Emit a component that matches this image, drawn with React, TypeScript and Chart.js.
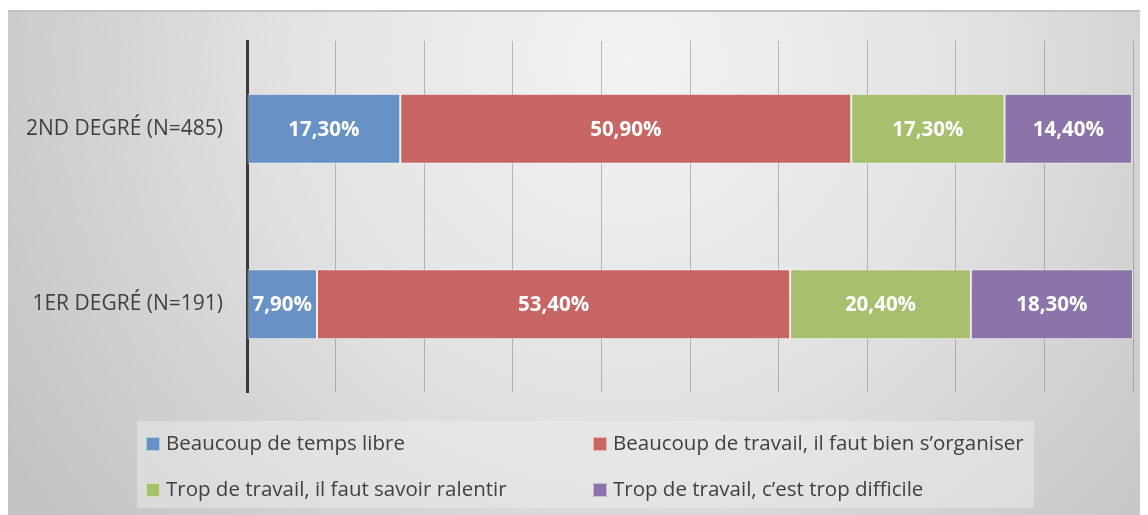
import React, { useEffect, useRef } from 'react';
import { Chart, registerables } from 'chart.js';

Chart.register(...registerables);

const categories = ['2ND DEGRÉ (N=485)', '1ER DEGRÉ (N=191)'];
const seriesLabels = [
  'Beaucoup de temps libre',
  'Beaucoup de travail, il faut bien s’organiser',
  'Trop de travail, il faut savoir ralentir',
  'Trop de travail, c’est trop difficile',
];
const tempsLibre = [17.3, 7.9];
const travailOrganiser = [50.9, 53.4];
const travailRalentir = [17.3, 20.4];
const tropDifficile = [14.4, 18.3];
const xTicks = [0, 10, 20, 30, 40, 50, 60, 70, 80, 90, 100];

const seriesColors = ['#6892c5', '#c86664', '#a6c06e', '#8c74aa'];
const FONT = "'Open Sans', 'DejaVu Sans', sans-serif";
const TEXT = '#404040';

const formatPct = (v: number) => v.toFixed(2).replace('.', ',') + '%';

const backgroundPlugin = {
  id: 'bgGradient',
  beforeDraw(chart: any) {
    const { ctx, width, height } = chart;
    ctx.save();
    const g = ctx.createRadialGradient(620, 50, 0, 620, 50, 740);
    g.addColorStop(0, '#f3f3f3');
    g.addColorStop(0.45, '#e3e3e3');
    g.addColorStop(1, '#c2c2c2');
    ctx.fillStyle = g;
    ctx.fillRect(0, 0, width, height);
    ctx.strokeStyle = '#c2c2c2';
    ctx.lineWidth = 2;
    ctx.beginPath();
    ctx.moveTo(0, 1);
    ctx.lineTo(width, 1);
    ctx.stroke();
    ctx.restore();
  },
};

const dataLabelPlugin = {
  id: 'barLabels',
  afterDatasetsDraw(chart: any) {
    const { ctx } = chart;
    ctx.save();
    ctx.fillStyle = '#ffffff';
    ctx.font = `bold 20.5px ${FONT}`;
    ctx.textAlign = 'center';
    ctx.textBaseline = 'middle';
    chart.data.datasets.forEach((ds: any, i: number) => {
      const meta = chart.getDatasetMeta(i);
      meta.data.forEach((el: any, j: number) => {
        const p = el.getProps(['x', 'y', 'base'], true);
        ctx.fillText(formatPct(ds.data[j]), (p.x + p.base) / 2, p.y + 1);
      });
    });
    ctx.restore();
  },
};

const legendPlugin = {
  id: 'gridLegend',
  afterDraw(chart: any) {
    const { ctx } = chart;
    ctx.save();
    ctx.fillStyle = 'rgba(240,240,240,0.45)';
    ctx.fillRect(129, 411, 897, 87);
    const cols = [138, 585];
    const rows = [434, 480];
    ctx.font = `20.5px ${FONT}`;
    ctx.textBaseline = 'middle';
    ctx.textAlign = 'left';
    chart.data.datasets.forEach((ds: any, i: number) => {
      const x = cols[i % 2];
      const y = rows[Math.floor(i / 2)];
      ctx.fillStyle = ds.backgroundColor;
      ctx.fillRect(x, y - 7, 14, 14);
      ctx.strokeStyle = 'rgba(255,255,255,0.5)';
      ctx.lineWidth = 1;
      ctx.strokeRect(x + 0.5, y - 6.5, 13, 13);
      ctx.fillStyle = TEXT;
      ctx.fillText(ds.label, x + 20, y);
    });
    ctx.restore();
  },
};

export default function App() {
  const ref = useRef<HTMLCanvasElement | null>(null);

  useEffect(() => {
    if (!ref.current) return;
    const seriesData = [tempsLibre, travailOrganiser, travailRalentir, tropDifficile];
    const chart = new Chart(ref.current, {
      type: 'bar',
      data: {
        labels: categories,
        datasets: seriesData.map((d, i) => ({
          label: seriesLabels[i],
          data: d,
          backgroundColor: seriesColors[i],
          borderColor: 'rgba(255,255,255,0.55)',
          borderWidth: 1,
          borderSkipped: false,
          barPercentage: 0.5,
          categoryPercentage: 0.8,
        })),
      },
      options: {
        indexAxis: 'y',
        animation: false,
        responsive: false,
        maintainAspectRatio: false,
        layout: { padding: { left: 0, right: 15, top: 31, bottom: 123 } },
        plugins: {
          legend: { display: false },
          tooltip: { enabled: false },
        },
        scales: {
          x: {
            stacked: true,
            min: 0,
            max: 100,
            afterBuildTicks: (s: any) => {
              s.ticks = xTicks.map((v) => ({ value: v }));
            },
            ticks: { display: false },
            grid: { color: 'rgba(125,125,125,0.5)', lineWidth: 1, drawTicks: false },
            border: { display: false },
            afterFit: (s: any) => {
              s.height = 0;
              s.paddingLeft = 0;
              s.paddingRight = 0;
            },
          },
          y: {
            stacked: true,
            afterFit: (s: any) => {
              s.width = 239;
              s.paddingTop = 0;
              s.paddingBottom = 0;
            },
            ticks: {
              color: TEXT,
              font: { family: FONT, size: 21 },
              padding: 24,
            },
            grid: { display: false, drawTicks: false },
            border: { display: true, color: '#3a3a3a', width: 3 },
          },
        },
      },
      plugins: [backgroundPlugin, dataLabelPlugin, legendPlugin],
    });
    return () => chart.destroy();
  }, []);

  return (
    <div style={{ paddingTop: 2 }}>
      <canvas ref={ref} width={1140} height={505} style={{ display: 'block', width: 1140, height: 505 }} />
    </div>
  );
}
